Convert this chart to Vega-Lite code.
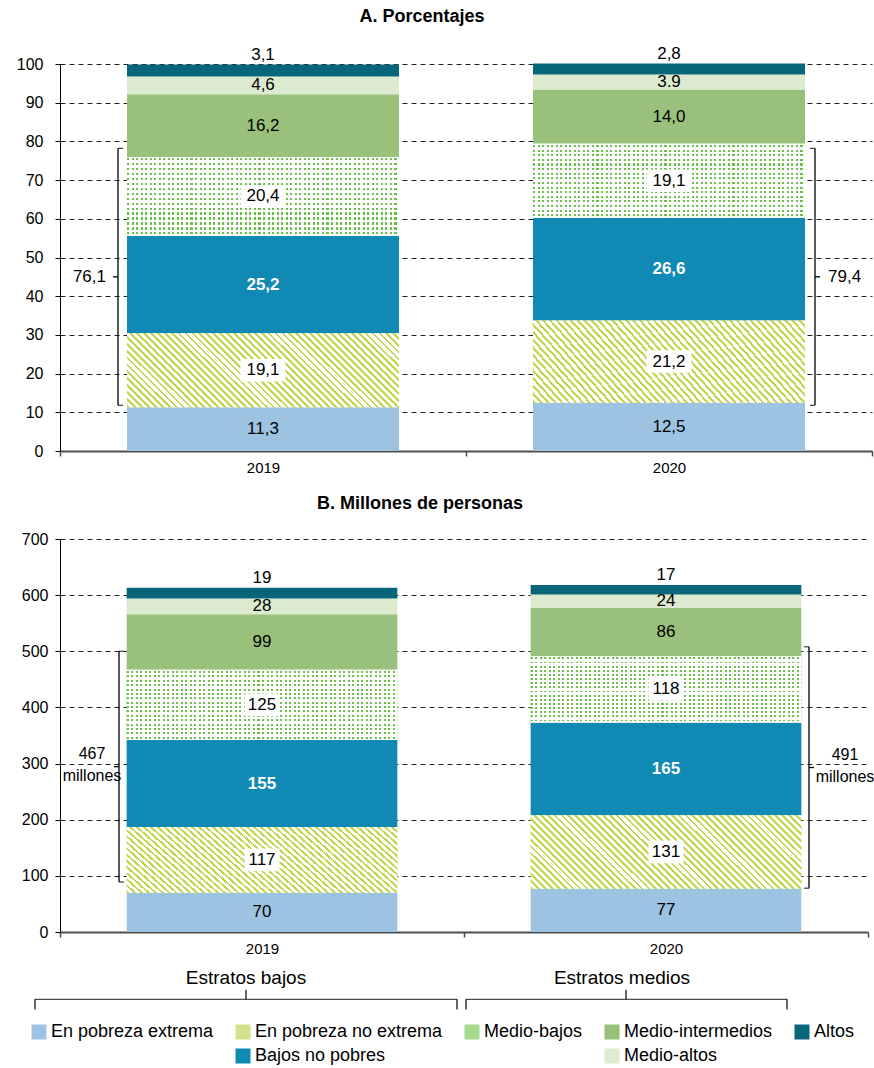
{
"$schema":"https://vega.github.io/schema/vega-lite/v6.json",
"background":"white",
"padding":{"left":16,"right":0,"top":8,"bottom":0},
"config":{
 "font":"Liberation Sans",
 "view":{"stroke":null},
 "title":{"fontSize":18,"fontWeight":"bold","color":"#000","font":"Liberation Sans"},
 "axisX":{"domainColor":"#4d4d4d","domainWidth":2,"tickColor":"#4d4d4d","tickSize":5,"tickWidth":1.5,"tickBand":"extent","labelFontSize":15,"labelColor":"#000","labelAngle":0,"labelPadding":4,"title":null,"grid":false},
 "axisY":{"grid":true,"gridDash":[5,4],"gridColor":"#222","gridWidth":1,"domainColor":"#000","domainWidth":1,"tickColor":"#000","tickSize":5,"labelFontSize":16,"labelColor":"#000","labelPadding":7,"title":null},
 "rect":{"stroke":null,"color":{"gradient":"linear","x1":0,"y1":1,"x2":1.185,"y2":0.677,"stops":[
{"offset":0,"color":"#c3d64b"},{"offset":0.008,"color":"#c3d64b"},{"offset":0.008,"color":"#fff"},{"offset":0.02,"color":"#fff"},
{"offset":0.02,"color":"#c3d64b"},{"offset":0.028,"color":"#c3d64b"},{"offset":0.028,"color":"#fff"},{"offset":0.04,"color":"#fff"},
{"offset":0.04,"color":"#c3d64b"},{"offset":0.048,"color":"#c3d64b"},{"offset":0.048,"color":"#fff"},{"offset":0.06,"color":"#fff"},
{"offset":0.06,"color":"#c3d64b"},{"offset":0.068,"color":"#c3d64b"},{"offset":0.068,"color":"#fff"},{"offset":0.08,"color":"#fff"},
{"offset":0.08,"color":"#c3d64b"},{"offset":0.088,"color":"#c3d64b"},{"offset":0.088,"color":"#fff"},{"offset":0.1,"color":"#fff"},
{"offset":0.1,"color":"#c3d64b"},{"offset":0.108,"color":"#c3d64b"},{"offset":0.108,"color":"#fff"},{"offset":0.12,"color":"#fff"},
{"offset":0.12,"color":"#c3d64b"},{"offset":0.128,"color":"#c3d64b"},{"offset":0.128,"color":"#fff"},{"offset":0.14,"color":"#fff"},
{"offset":0.14,"color":"#c3d64b"},{"offset":0.148,"color":"#c3d64b"},{"offset":0.148,"color":"#fff"},{"offset":0.16,"color":"#fff"},
{"offset":0.16,"color":"#c3d64b"},{"offset":0.168,"color":"#c3d64b"},{"offset":0.168,"color":"#fff"},{"offset":0.18,"color":"#fff"},
{"offset":0.18,"color":"#c3d64b"},{"offset":0.188,"color":"#c3d64b"},{"offset":0.188,"color":"#fff"},{"offset":0.2,"color":"#fff"},
{"offset":0.2,"color":"#c3d64b"},{"offset":0.208,"color":"#c3d64b"},{"offset":0.208,"color":"#fff"},{"offset":0.22,"color":"#fff"},
{"offset":0.22,"color":"#c3d64b"},{"offset":0.228,"color":"#c3d64b"},{"offset":0.228,"color":"#fff"},{"offset":0.24,"color":"#fff"},
{"offset":0.24,"color":"#c3d64b"},{"offset":0.248,"color":"#c3d64b"},{"offset":0.248,"color":"#fff"},{"offset":0.26,"color":"#fff"},
{"offset":0.26,"color":"#c3d64b"},{"offset":0.268,"color":"#c3d64b"},{"offset":0.268,"color":"#fff"},{"offset":0.28,"color":"#fff"},
{"offset":0.28,"color":"#c3d64b"},{"offset":0.288,"color":"#c3d64b"},{"offset":0.288,"color":"#fff"},{"offset":0.3,"color":"#fff"},
{"offset":0.3,"color":"#c3d64b"},{"offset":0.308,"color":"#c3d64b"},{"offset":0.308,"color":"#fff"},{"offset":0.32,"color":"#fff"},
{"offset":0.32,"color":"#c3d64b"},{"offset":0.328,"color":"#c3d64b"},{"offset":0.328,"color":"#fff"},{"offset":0.34,"color":"#fff"},
{"offset":0.34,"color":"#c3d64b"},{"offset":0.348,"color":"#c3d64b"},{"offset":0.348,"color":"#fff"},{"offset":0.36,"color":"#fff"},
{"offset":0.36,"color":"#c3d64b"},{"offset":0.368,"color":"#c3d64b"},{"offset":0.368,"color":"#fff"},{"offset":0.38,"color":"#fff"},
{"offset":0.38,"color":"#c3d64b"},{"offset":0.388,"color":"#c3d64b"},{"offset":0.388,"color":"#fff"},{"offset":0.4,"color":"#fff"},
{"offset":0.4,"color":"#c3d64b"},{"offset":0.408,"color":"#c3d64b"},{"offset":0.408,"color":"#fff"},{"offset":0.42,"color":"#fff"},
{"offset":0.42,"color":"#c3d64b"},{"offset":0.428,"color":"#c3d64b"},{"offset":0.428,"color":"#fff"},{"offset":0.44,"color":"#fff"},
{"offset":0.44,"color":"#c3d64b"},{"offset":0.448,"color":"#c3d64b"},{"offset":0.448,"color":"#fff"},{"offset":0.46,"color":"#fff"},
{"offset":0.46,"color":"#c3d64b"},{"offset":0.468,"color":"#c3d64b"},{"offset":0.468,"color":"#fff"},{"offset":0.48,"color":"#fff"},
{"offset":0.48,"color":"#c3d64b"},{"offset":0.488,"color":"#c3d64b"},{"offset":0.488,"color":"#fff"},{"offset":0.5,"color":"#fff"},
{"offset":0.5,"color":"#c3d64b"},{"offset":0.508,"color":"#c3d64b"},{"offset":0.508,"color":"#fff"},{"offset":0.52,"color":"#fff"},
{"offset":0.52,"color":"#c3d64b"},{"offset":0.528,"color":"#c3d64b"},{"offset":0.528,"color":"#fff"},{"offset":0.54,"color":"#fff"},
{"offset":0.54,"color":"#c3d64b"},{"offset":0.548,"color":"#c3d64b"},{"offset":0.548,"color":"#fff"},{"offset":0.56,"color":"#fff"},
{"offset":0.56,"color":"#c3d64b"},{"offset":0.568,"color":"#c3d64b"},{"offset":0.568,"color":"#fff"},{"offset":0.58,"color":"#fff"},
{"offset":0.58,"color":"#c3d64b"},{"offset":0.588,"color":"#c3d64b"},{"offset":0.588,"color":"#fff"},{"offset":0.6,"color":"#fff"},
{"offset":0.6,"color":"#c3d64b"},{"offset":0.608,"color":"#c3d64b"},{"offset":0.608,"color":"#fff"},{"offset":0.62,"color":"#fff"},
{"offset":0.62,"color":"#c3d64b"},{"offset":0.628,"color":"#c3d64b"},{"offset":0.628,"color":"#fff"},{"offset":0.64,"color":"#fff"},
{"offset":0.64,"color":"#c3d64b"},{"offset":0.648,"color":"#c3d64b"},{"offset":0.648,"color":"#fff"},{"offset":0.66,"color":"#fff"},
{"offset":0.66,"color":"#c3d64b"},{"offset":0.668,"color":"#c3d64b"},{"offset":0.668,"color":"#fff"},{"offset":0.68,"color":"#fff"},
{"offset":0.68,"color":"#c3d64b"},{"offset":0.688,"color":"#c3d64b"},{"offset":0.688,"color":"#fff"},{"offset":0.7,"color":"#fff"},
{"offset":0.7,"color":"#c3d64b"},{"offset":0.708,"color":"#c3d64b"},{"offset":0.708,"color":"#fff"},{"offset":0.72,"color":"#fff"},
{"offset":0.72,"color":"#c3d64b"},{"offset":0.728,"color":"#c3d64b"},{"offset":0.728,"color":"#fff"},{"offset":0.74,"color":"#fff"},
{"offset":0.74,"color":"#c3d64b"},{"offset":0.748,"color":"#c3d64b"},{"offset":0.748,"color":"#fff"},{"offset":0.76,"color":"#fff"},
{"offset":0.76,"color":"#c3d64b"},{"offset":0.768,"color":"#c3d64b"},{"offset":0.768,"color":"#fff"},{"offset":0.78,"color":"#fff"},
{"offset":0.78,"color":"#c3d64b"},{"offset":0.788,"color":"#c3d64b"},{"offset":0.788,"color":"#fff"},{"offset":0.8,"color":"#fff"},
{"offset":0.8,"color":"#c3d64b"},{"offset":0.808,"color":"#c3d64b"},{"offset":0.808,"color":"#fff"},{"offset":0.82,"color":"#fff"},
{"offset":0.82,"color":"#c3d64b"},{"offset":0.828,"color":"#c3d64b"},{"offset":0.828,"color":"#fff"},{"offset":0.84,"color":"#fff"},
{"offset":0.84,"color":"#c3d64b"},{"offset":0.848,"color":"#c3d64b"},{"offset":0.848,"color":"#fff"},{"offset":0.86,"color":"#fff"},
{"offset":0.86,"color":"#c3d64b"},{"offset":0.868,"color":"#c3d64b"},{"offset":0.868,"color":"#fff"},{"offset":0.88,"color":"#fff"},
{"offset":0.88,"color":"#c3d64b"},{"offset":0.888,"color":"#c3d64b"},{"offset":0.888,"color":"#fff"},{"offset":0.9,"color":"#fff"},
{"offset":0.9,"color":"#c3d64b"},{"offset":0.908,"color":"#c3d64b"},{"offset":0.908,"color":"#fff"},{"offset":0.92,"color":"#fff"},
{"offset":0.92,"color":"#c3d64b"},{"offset":0.928,"color":"#c3d64b"},{"offset":0.928,"color":"#fff"},{"offset":0.94,"color":"#fff"},
{"offset":0.94,"color":"#c3d64b"},{"offset":0.948,"color":"#c3d64b"},{"offset":0.948,"color":"#fff"},{"offset":0.96,"color":"#fff"},
{"offset":0.96,"color":"#c3d64b"},{"offset":0.968,"color":"#c3d64b"},{"offset":0.968,"color":"#fff"},{"offset":0.98,"color":"#fff"},
{"offset":0.98,"color":"#c3d64b"},{"offset":0.988,"color":"#c3d64b"},{"offset":0.988,"color":"#fff"},{"offset":1,"color":"#fff"}
]}},
 "bar":{"stroke":null,"color":{"gradient":"linear","x1":0,"y1":0,"x2":1,"y2":0,"stops":[
{"offset":0,"color":"rgba(255,255,255,0)"},{"offset":0.0075,"color":"rgba(255,255,255,0)"},{"offset":0.0075,"color":"#fff"},{"offset":0.01667,"color":"#fff"},
{"offset":0.01667,"color":"rgba(255,255,255,0)"},{"offset":0.02417,"color":"rgba(255,255,255,0)"},{"offset":0.02417,"color":"#fff"},{"offset":0.03333,"color":"#fff"},
{"offset":0.03333,"color":"rgba(255,255,255,0)"},{"offset":0.04083,"color":"rgba(255,255,255,0)"},{"offset":0.04083,"color":"#fff"},{"offset":0.05,"color":"#fff"},
{"offset":0.05,"color":"rgba(255,255,255,0)"},{"offset":0.0575,"color":"rgba(255,255,255,0)"},{"offset":0.0575,"color":"#fff"},{"offset":0.06667,"color":"#fff"},
{"offset":0.06667,"color":"rgba(255,255,255,0)"},{"offset":0.07417,"color":"rgba(255,255,255,0)"},{"offset":0.07417,"color":"#fff"},{"offset":0.08333,"color":"#fff"},
{"offset":0.08333,"color":"rgba(255,255,255,0)"},{"offset":0.09083,"color":"rgba(255,255,255,0)"},{"offset":0.09083,"color":"#fff"},{"offset":0.1,"color":"#fff"},
{"offset":0.1,"color":"rgba(255,255,255,0)"},{"offset":0.1075,"color":"rgba(255,255,255,0)"},{"offset":0.1075,"color":"#fff"},{"offset":0.11667,"color":"#fff"},
{"offset":0.11667,"color":"rgba(255,255,255,0)"},{"offset":0.12417,"color":"rgba(255,255,255,0)"},{"offset":0.12417,"color":"#fff"},{"offset":0.13333,"color":"#fff"},
{"offset":0.13333,"color":"rgba(255,255,255,0)"},{"offset":0.14083,"color":"rgba(255,255,255,0)"},{"offset":0.14083,"color":"#fff"},{"offset":0.15,"color":"#fff"},
{"offset":0.15,"color":"rgba(255,255,255,0)"},{"offset":0.1575,"color":"rgba(255,255,255,0)"},{"offset":0.1575,"color":"#fff"},{"offset":0.16667,"color":"#fff"},
{"offset":0.16667,"color":"rgba(255,255,255,0)"},{"offset":0.17417,"color":"rgba(255,255,255,0)"},{"offset":0.17417,"color":"#fff"},{"offset":0.18333,"color":"#fff"},
{"offset":0.18333,"color":"rgba(255,255,255,0)"},{"offset":0.19083,"color":"rgba(255,255,255,0)"},{"offset":0.19083,"color":"#fff"},{"offset":0.2,"color":"#fff"},
{"offset":0.2,"color":"rgba(255,255,255,0)"},{"offset":0.2075,"color":"rgba(255,255,255,0)"},{"offset":0.2075,"color":"#fff"},{"offset":0.21667,"color":"#fff"},
{"offset":0.21667,"color":"rgba(255,255,255,0)"},{"offset":0.22417,"color":"rgba(255,255,255,0)"},{"offset":0.22417,"color":"#fff"},{"offset":0.23333,"color":"#fff"},
{"offset":0.23333,"color":"rgba(255,255,255,0)"},{"offset":0.24083,"color":"rgba(255,255,255,0)"},{"offset":0.24083,"color":"#fff"},{"offset":0.25,"color":"#fff"},
{"offset":0.25,"color":"rgba(255,255,255,0)"},{"offset":0.2575,"color":"rgba(255,255,255,0)"},{"offset":0.2575,"color":"#fff"},{"offset":0.26667,"color":"#fff"},
{"offset":0.26667,"color":"rgba(255,255,255,0)"},{"offset":0.27417,"color":"rgba(255,255,255,0)"},{"offset":0.27417,"color":"#fff"},{"offset":0.28333,"color":"#fff"},
{"offset":0.28333,"color":"rgba(255,255,255,0)"},{"offset":0.29083,"color":"rgba(255,255,255,0)"},{"offset":0.29083,"color":"#fff"},{"offset":0.3,"color":"#fff"},
{"offset":0.3,"color":"rgba(255,255,255,0)"},{"offset":0.3075,"color":"rgba(255,255,255,0)"},{"offset":0.3075,"color":"#fff"},{"offset":0.31667,"color":"#fff"},
{"offset":0.31667,"color":"rgba(255,255,255,0)"},{"offset":0.32417,"color":"rgba(255,255,255,0)"},{"offset":0.32417,"color":"#fff"},{"offset":0.33333,"color":"#fff"},
{"offset":0.33333,"color":"rgba(255,255,255,0)"},{"offset":0.34083,"color":"rgba(255,255,255,0)"},{"offset":0.34083,"color":"#fff"},{"offset":0.35,"color":"#fff"},
{"offset":0.35,"color":"rgba(255,255,255,0)"},{"offset":0.3575,"color":"rgba(255,255,255,0)"},{"offset":0.3575,"color":"#fff"},{"offset":0.36667,"color":"#fff"},
{"offset":0.36667,"color":"rgba(255,255,255,0)"},{"offset":0.37417,"color":"rgba(255,255,255,0)"},{"offset":0.37417,"color":"#fff"},{"offset":0.38333,"color":"#fff"},
{"offset":0.38333,"color":"rgba(255,255,255,0)"},{"offset":0.39083,"color":"rgba(255,255,255,0)"},{"offset":0.39083,"color":"#fff"},{"offset":0.4,"color":"#fff"},
{"offset":0.4,"color":"rgba(255,255,255,0)"},{"offset":0.4075,"color":"rgba(255,255,255,0)"},{"offset":0.4075,"color":"#fff"},{"offset":0.41667,"color":"#fff"},
{"offset":0.41667,"color":"rgba(255,255,255,0)"},{"offset":0.42417,"color":"rgba(255,255,255,0)"},{"offset":0.42417,"color":"#fff"},{"offset":0.43333,"color":"#fff"},
{"offset":0.43333,"color":"rgba(255,255,255,0)"},{"offset":0.44083,"color":"rgba(255,255,255,0)"},{"offset":0.44083,"color":"#fff"},{"offset":0.45,"color":"#fff"},
{"offset":0.45,"color":"rgba(255,255,255,0)"},{"offset":0.4575,"color":"rgba(255,255,255,0)"},{"offset":0.4575,"color":"#fff"},{"offset":0.46667,"color":"#fff"},
{"offset":0.46667,"color":"rgba(255,255,255,0)"},{"offset":0.47417,"color":"rgba(255,255,255,0)"},{"offset":0.47417,"color":"#fff"},{"offset":0.48333,"color":"#fff"},
{"offset":0.48333,"color":"rgba(255,255,255,0)"},{"offset":0.49083,"color":"rgba(255,255,255,0)"},{"offset":0.49083,"color":"#fff"},{"offset":0.5,"color":"#fff"},
{"offset":0.5,"color":"rgba(255,255,255,0)"},{"offset":0.5075,"color":"rgba(255,255,255,0)"},{"offset":0.5075,"color":"#fff"},{"offset":0.51667,"color":"#fff"},
{"offset":0.51667,"color":"rgba(255,255,255,0)"},{"offset":0.52417,"color":"rgba(255,255,255,0)"},{"offset":0.52417,"color":"#fff"},{"offset":0.53333,"color":"#fff"},
{"offset":0.53333,"color":"rgba(255,255,255,0)"},{"offset":0.54083,"color":"rgba(255,255,255,0)"},{"offset":0.54083,"color":"#fff"},{"offset":0.55,"color":"#fff"},
{"offset":0.55,"color":"rgba(255,255,255,0)"},{"offset":0.5575,"color":"rgba(255,255,255,0)"},{"offset":0.5575,"color":"#fff"},{"offset":0.56667,"color":"#fff"},
{"offset":0.56667,"color":"rgba(255,255,255,0)"},{"offset":0.57417,"color":"rgba(255,255,255,0)"},{"offset":0.57417,"color":"#fff"},{"offset":0.58333,"color":"#fff"},
{"offset":0.58333,"color":"rgba(255,255,255,0)"},{"offset":0.59083,"color":"rgba(255,255,255,0)"},{"offset":0.59083,"color":"#fff"},{"offset":0.6,"color":"#fff"},
{"offset":0.6,"color":"rgba(255,255,255,0)"},{"offset":0.6075,"color":"rgba(255,255,255,0)"},{"offset":0.6075,"color":"#fff"},{"offset":0.61667,"color":"#fff"},
{"offset":0.61667,"color":"rgba(255,255,255,0)"},{"offset":0.62417,"color":"rgba(255,255,255,0)"},{"offset":0.62417,"color":"#fff"},{"offset":0.63333,"color":"#fff"},
{"offset":0.63333,"color":"rgba(255,255,255,0)"},{"offset":0.64083,"color":"rgba(255,255,255,0)"},{"offset":0.64083,"color":"#fff"},{"offset":0.65,"color":"#fff"},
{"offset":0.65,"color":"rgba(255,255,255,0)"},{"offset":0.6575,"color":"rgba(255,255,255,0)"},{"offset":0.6575,"color":"#fff"},{"offset":0.66667,"color":"#fff"},
{"offset":0.66667,"color":"rgba(255,255,255,0)"},{"offset":0.67417,"color":"rgba(255,255,255,0)"},{"offset":0.67417,"color":"#fff"},{"offset":0.68333,"color":"#fff"},
{"offset":0.68333,"color":"rgba(255,255,255,0)"},{"offset":0.69083,"color":"rgba(255,255,255,0)"},{"offset":0.69083,"color":"#fff"},{"offset":0.7,"color":"#fff"},
{"offset":0.7,"color":"rgba(255,255,255,0)"},{"offset":0.7075,"color":"rgba(255,255,255,0)"},{"offset":0.7075,"color":"#fff"},{"offset":0.71667,"color":"#fff"},
{"offset":0.71667,"color":"rgba(255,255,255,0)"},{"offset":0.72417,"color":"rgba(255,255,255,0)"},{"offset":0.72417,"color":"#fff"},{"offset":0.73333,"color":"#fff"},
{"offset":0.73333,"color":"rgba(255,255,255,0)"},{"offset":0.74083,"color":"rgba(255,255,255,0)"},{"offset":0.74083,"color":"#fff"},{"offset":0.75,"color":"#fff"},
{"offset":0.75,"color":"rgba(255,255,255,0)"},{"offset":0.7575,"color":"rgba(255,255,255,0)"},{"offset":0.7575,"color":"#fff"},{"offset":0.76667,"color":"#fff"},
{"offset":0.76667,"color":"rgba(255,255,255,0)"},{"offset":0.77417,"color":"rgba(255,255,255,0)"},{"offset":0.77417,"color":"#fff"},{"offset":0.78333,"color":"#fff"},
{"offset":0.78333,"color":"rgba(255,255,255,0)"},{"offset":0.79083,"color":"rgba(255,255,255,0)"},{"offset":0.79083,"color":"#fff"},{"offset":0.8,"color":"#fff"},
{"offset":0.8,"color":"rgba(255,255,255,0)"},{"offset":0.8075,"color":"rgba(255,255,255,0)"},{"offset":0.8075,"color":"#fff"},{"offset":0.81667,"color":"#fff"},
{"offset":0.81667,"color":"rgba(255,255,255,0)"},{"offset":0.82417,"color":"rgba(255,255,255,0)"},{"offset":0.82417,"color":"#fff"},{"offset":0.83333,"color":"#fff"},
{"offset":0.83333,"color":"rgba(255,255,255,0)"},{"offset":0.84083,"color":"rgba(255,255,255,0)"},{"offset":0.84083,"color":"#fff"},{"offset":0.85,"color":"#fff"},
{"offset":0.85,"color":"rgba(255,255,255,0)"},{"offset":0.8575,"color":"rgba(255,255,255,0)"},{"offset":0.8575,"color":"#fff"},{"offset":0.86667,"color":"#fff"},
{"offset":0.86667,"color":"rgba(255,255,255,0)"},{"offset":0.87417,"color":"rgba(255,255,255,0)"},{"offset":0.87417,"color":"#fff"},{"offset":0.88333,"color":"#fff"},
{"offset":0.88333,"color":"rgba(255,255,255,0)"},{"offset":0.89083,"color":"rgba(255,255,255,0)"},{"offset":0.89083,"color":"#fff"},{"offset":0.9,"color":"#fff"},
{"offset":0.9,"color":"rgba(255,255,255,0)"},{"offset":0.9075,"color":"rgba(255,255,255,0)"},{"offset":0.9075,"color":"#fff"},{"offset":0.91667,"color":"#fff"},
{"offset":0.91667,"color":"rgba(255,255,255,0)"},{"offset":0.92417,"color":"rgba(255,255,255,0)"},{"offset":0.92417,"color":"#fff"},{"offset":0.93333,"color":"#fff"},
{"offset":0.93333,"color":"rgba(255,255,255,0)"},{"offset":0.94083,"color":"rgba(255,255,255,0)"},{"offset":0.94083,"color":"#fff"},{"offset":0.95,"color":"#fff"},
{"offset":0.95,"color":"rgba(255,255,255,0)"},{"offset":0.9575,"color":"rgba(255,255,255,0)"},{"offset":0.9575,"color":"#fff"},{"offset":0.96667,"color":"#fff"},
{"offset":0.96667,"color":"rgba(255,255,255,0)"},{"offset":0.97417,"color":"rgba(255,255,255,0)"},{"offset":0.97417,"color":"#fff"},{"offset":0.98333,"color":"#fff"},
{"offset":0.98333,"color":"rgba(255,255,255,0)"},{"offset":0.99083,"color":"rgba(255,255,255,0)"},{"offset":0.99083,"color":"#fff"},{"offset":1,"color":"#fff"}
]}}
},
"datasets":{
 "pct":[
  {"year":"2019","cat":"En pobreza extrema","k":1,"value":11.3,"label":"11,3"},
  {"year":"2019","cat":"En pobreza no extrema","k":2,"value":19.1,"label":"19,1"},
  {"year":"2019","cat":"Bajos no pobres","k":3,"value":25.2,"label":"25,2"},
  {"year":"2019","cat":"Medio-bajos","k":4,"value":20.4,"label":"20,4"},
  {"year":"2019","cat":"Medio-intermedios","k":5,"value":16.2,"label":"16,2"},
  {"year":"2019","cat":"Medio-altos","k":6,"value":4.6,"label":"4,6"},
  {"year":"2019","cat":"Altos","k":7,"value":3.1,"label":"3,1"},
  {"year":"2020","cat":"En pobreza extrema","k":1,"value":12.5,"label":"12,5"},
  {"year":"2020","cat":"En pobreza no extrema","k":2,"value":21.2,"label":"21,2"},
  {"year":"2020","cat":"Bajos no pobres","k":3,"value":26.6,"label":"26,6"},
  {"year":"2020","cat":"Medio-bajos","k":4,"value":19.1,"label":"19,1"},
  {"year":"2020","cat":"Medio-intermedios","k":5,"value":14.0,"label":"14,0"},
  {"year":"2020","cat":"Medio-altos","k":6,"value":3.9,"label":"3.9"},
  {"year":"2020","cat":"Altos","k":7,"value":2.8,"label":"2,8"}
 ],
 "mil":[
  {"year":"2019","cat":"En pobreza extrema","k":1,"value":70,"label":"70"},
  {"year":"2019","cat":"En pobreza no extrema","k":2,"value":117,"label":"117"},
  {"year":"2019","cat":"Bajos no pobres","k":3,"value":155,"label":"155"},
  {"year":"2019","cat":"Medio-bajos","k":4,"value":125,"label":"125"},
  {"year":"2019","cat":"Medio-intermedios","k":5,"value":99,"label":"99"},
  {"year":"2019","cat":"Medio-altos","k":6,"value":28,"label":"28"},
  {"year":"2019","cat":"Altos","k":7,"value":19,"label":"19"},
  {"year":"2020","cat":"En pobreza extrema","k":1,"value":77,"label":"77"},
  {"year":"2020","cat":"En pobreza no extrema","k":2,"value":131,"label":"131"},
  {"year":"2020","cat":"Bajos no pobres","k":3,"value":165,"label":"165"},
  {"year":"2020","cat":"Medio-bajos","k":4,"value":118,"label":"118"},
  {"year":"2020","cat":"Medio-intermedios","k":5,"value":86,"label":"86"},
  {"year":"2020","cat":"Medio-altos","k":6,"value":24,"label":"24"},
  {"year":"2020","cat":"Altos","k":7,"value":17,"label":"17"}
 ],
 "brA":[
  {"year":"2019","lo":11.8,"hi":78.2,"label":"76,1"},
  {"year":"2020","lo":11.8,"hi":78.2,"label":"79,4"}
 ],
 "brB":[
  {"year":"2019","lo":89,"hi":500,"label":"467\nmillones"},
  {"year":"2020","lo":78,"hi":508,"label":"491\nmillones"}
 ],
 "grp":[
  {"year":"2019","name":"Estratos bajos"},
  {"year":"2020","name":"Estratos medios"}
 ]
},
"resolve":{"scale":{"color":"shared","x":"independent","y":"independent"},"legend":{"color":"shared"}},
"spacing":20,
"vconcat":[
 {
  "title":{"text":"A. Porcentajes","anchor":"middle","frame":"group","dx":-44,"offset":19},
  "width":812,"height":387,
  "encoding":{"x":{"field":"year","type":"nominal","scale":{"paddingInner":0,"paddingOuter":0},"axis":{"title":null}}},
  "layer":[
   {
    "data":{"name":"pct"},
    "transform":[{"stack":"value","groupby":["year"],"sort":[{"field":"k"}],"as":["v0","v1"]}],
    "layer":[
     {"mark":{"type":"bar","width":{"band":0.67}},"encoding":{
       "y":{"field":"v0","type":"quantitative","scale":{"domain":[0,100]},"axis":{"values":[0,10,20,30,40,50,60,70,80,90,100],"labelPadding":12}},
       "y2":{"field":"v1"},
       "color":{"field":"cat","type":"nominal",
         "scale":{"domain":["En pobreza extrema","En pobreza no extrema","Medio-bajos","Medio-intermedios","Altos","_1","Bajos no pobres","_2","Medio-altos"],
                  "range":["#9dc3e2","#d3e289","#a9da92","#9ac17c","#08667a","#ffffff","#1089b4","#ffffff","#dcebd0"]},
         "legend":{"orient":"none","legendX":-30,"legendY":959,"direction":"horizontal","columns":5,"title":null,"symbolType":"square","symbolSize":225,"symbolStrokeWidth":0,"labelFontSize":18,"labelColor":"#000","labelLimit":400,"columnPadding":20,"rowPadding":6,"labelOffset":3,
           "labelExpr":"substring(datum.label,0,1)=='_' ? '' : datum.label"}}}},
     {"transform":[{"filter":"datum.k==2"}],"mark":{"type":"rect","width":{"band":0.67}},"encoding":{"y":{"field":"v0","type":"quantitative","axis":{"values":[0,10,20,30,40,50,60,70,80,90,100],"labelPadding":12}},"y2":{"field":"v1"}}},
     {"transform":[{"filter":"datum.k==4"}],"mark":{"type":"bar","width":{"band":0.67},"color":{"gradient":"linear","x1":0,"y1":0,"x2":0,"y2":1,"stops":[
{"offset":0.017,"color":"#fff"},{"offset":0.017,"color":"#6cbf47"},{"offset":0.045,"color":"#6cbf47"},{"offset":0.045,"color":"#fff"},
{"offset":0.0795,"color":"#fff"},{"offset":0.0795,"color":"#6cbf47"},{"offset":0.1075,"color":"#6cbf47"},{"offset":0.1075,"color":"#fff"},
{"offset":0.142,"color":"#fff"},{"offset":0.142,"color":"#6cbf47"},{"offset":0.17,"color":"#6cbf47"},{"offset":0.17,"color":"#fff"},
{"offset":0.2045,"color":"#fff"},{"offset":0.2045,"color":"#6cbf47"},{"offset":0.2325,"color":"#6cbf47"},{"offset":0.2325,"color":"#fff"},
{"offset":0.267,"color":"#fff"},{"offset":0.267,"color":"#6cbf47"},{"offset":0.295,"color":"#6cbf47"},{"offset":0.295,"color":"#fff"},
{"offset":0.3295,"color":"#fff"},{"offset":0.3295,"color":"#6cbf47"},{"offset":0.3575,"color":"#6cbf47"},{"offset":0.3575,"color":"#fff"},
{"offset":0.392,"color":"#fff"},{"offset":0.392,"color":"#6cbf47"},{"offset":0.42,"color":"#6cbf47"},{"offset":0.42,"color":"#fff"},
{"offset":0.4545,"color":"#fff"},{"offset":0.4545,"color":"#6cbf47"},{"offset":0.4825,"color":"#6cbf47"},{"offset":0.4825,"color":"#fff"},
{"offset":0.517,"color":"#fff"},{"offset":0.517,"color":"#6cbf47"},{"offset":0.545,"color":"#6cbf47"},{"offset":0.545,"color":"#fff"},
{"offset":0.5795,"color":"#fff"},{"offset":0.5795,"color":"#6cbf47"},{"offset":0.6075,"color":"#6cbf47"},{"offset":0.6075,"color":"#fff"},
{"offset":0.642,"color":"#fff"},{"offset":0.642,"color":"#6cbf47"},{"offset":0.67,"color":"#6cbf47"},{"offset":0.67,"color":"#fff"},
{"offset":0.7045,"color":"#fff"},{"offset":0.7045,"color":"#6cbf47"},{"offset":0.7325,"color":"#6cbf47"},{"offset":0.7325,"color":"#fff"},
{"offset":0.767,"color":"#fff"},{"offset":0.767,"color":"#6cbf47"},{"offset":0.795,"color":"#6cbf47"},{"offset":0.795,"color":"#fff"},
{"offset":0.8295,"color":"#fff"},{"offset":0.8295,"color":"#6cbf47"},{"offset":0.8575,"color":"#6cbf47"},{"offset":0.8575,"color":"#fff"},
{"offset":0.892,"color":"#fff"},{"offset":0.892,"color":"#6cbf47"},{"offset":0.92,"color":"#6cbf47"},{"offset":0.92,"color":"#fff"},
{"offset":0.9545,"color":"#fff"},{"offset":0.9545,"color":"#6cbf47"},{"offset":0.9825,"color":"#6cbf47"},{"offset":0.9825,"color":"#fff"}
]}},"encoding":{"y":{"field":"v0","type":"quantitative","axis":{"values":[0,10,20,30,40,50,60,70,80,90,100],"labelPadding":12}},"y2":{"field":"v1"}}},
     {"transform":[{"filter":"datum.k==4"}],"mark":{"type":"bar","width":{"band":0.67}},"encoding":{"y":{"field":"v0","type":"quantitative","axis":{"values":[0,10,20,30,40,50,60,70,80,90,100],"labelPadding":12}},"y2":{"field":"v1"}}},
     {"transform":[{"filter":"datum.k==2||datum.k==4"},{"fold":["v0","v1"],"as":["edge","pos"]}],
      "mark":{"type":"point","shape":"M-1,-0.5H1V0.5H-1Z","size":2025,"filled":true,"color":"#fff","opacity":1,"strokeWidth":0},
      "encoding":{"y":{"aggregate":"mean","field":"pos","type":"quantitative","axis":{"values":[0,10,20,30,40,50,60,70,80,90,100],"labelPadding":12}},"detail":{"field":"k","type":"nominal"}}},
     {"transform":[{"filter":"datum.k!=3&&datum.k!=7"},{"fold":["v0","v1"],"as":["edge","pos"]}],
      "mark":{"type":"text","fontSize":17,"color":"#000","baseline":"middle"},
      "encoding":{"y":{"aggregate":"mean","field":"pos","type":"quantitative","axis":{"values":[0,10,20,30,40,50,60,70,80,90,100],"labelPadding":12}},"text":{"field":"label"},"detail":{"field":"k","type":"nominal"}}},
     {"transform":[{"filter":"datum.k==3"},{"fold":["v0","v1"],"as":["edge","pos"]}],
      "mark":{"type":"text","fontSize":17,"fontWeight":"bold","color":"#fff","baseline":"middle"},
      "encoding":{"y":{"aggregate":"mean","field":"pos","type":"quantitative","axis":{"values":[0,10,20,30,40,50,60,70,80,90,100],"labelPadding":12}},"text":{"field":"label"},"detail":{"field":"k","type":"nominal"}}},
     {"transform":[{"filter":"datum.k==7"},{"fold":["v0","v1"],"as":["edge","pos"]}],
      "mark":{"type":"text","fontSize":17,"color":"#000","baseline":"middle","dy":-15},
      "encoding":{"y":{"aggregate":"mean","field":"pos","type":"quantitative","axis":{"values":[0,10,20,30,40,50,60,70,80,90,100],"labelPadding":12}},"text":{"field":"label"},"detail":{"field":"k","type":"nominal"}}}
    ]
   },
   {
    "data":{"name":"brA"},
    "layer":[
     {"transform":[{"filter":"datum.year=='2019'"}],"mark":{"type":"rule","xOffset":-145,"strokeWidth":1.3,"color":"#000"},"encoding":{"y":{"field":"lo","type":"quantitative","axis":{"values":[0,10,20,30,40,50,60,70,80,90,100],"labelPadding":12}},"y2":{"field":"hi"}}},
     {"transform":[{"filter":"datum.year=='2019'"},{"fold":["lo","hi"],"as":["edge","pos"]}],"mark":{"type":"tick","orient":"horizontal","xOffset":-142.5,"thickness":1.3,"color":"#000"},"encoding":{"y":{"field":"pos","type":"quantitative","axis":{"values":[0,10,20,30,40,50,60,70,80,90,100],"labelPadding":12}},"size":{"value":5}}},
     {"transform":[{"filter":"datum.year=='2019'"},{"fold":["lo","hi"],"as":["edge","pos"]}],"mark":{"type":"tick","orient":"horizontal","xOffset":-147.5,"thickness":1.3,"color":"#000"},"encoding":{"y":{"aggregate":"mean","field":"pos","type":"quantitative","axis":{"values":[0,10,20,30,40,50,60,70,80,90,100],"labelPadding":12}},"size":{"value":5}}},
     {"transform":[{"filter":"datum.year=='2019'"},{"fold":["lo","hi"],"as":["edge","pos"]}],"mark":{"type":"text","xOffset":-157,"align":"right","baseline":"middle","fontSize":17,"color":"#000"},"encoding":{"y":{"aggregate":"mean","field":"pos","type":"quantitative","axis":{"values":[0,10,20,30,40,50,60,70,80,90,100],"labelPadding":12}},"text":{"field":"label"}}},
     {"transform":[{"filter":"datum.year=='2020'"}],"mark":{"type":"rule","xOffset":146,"strokeWidth":1.3,"color":"#000"},"encoding":{"y":{"field":"lo","type":"quantitative","axis":{"values":[0,10,20,30,40,50,60,70,80,90,100],"labelPadding":12}},"y2":{"field":"hi"}}},
     {"transform":[{"filter":"datum.year=='2020'"},{"fold":["lo","hi"],"as":["edge","pos"]}],"mark":{"type":"tick","orient":"horizontal","xOffset":143.5,"thickness":1.3,"color":"#000"},"encoding":{"y":{"field":"pos","type":"quantitative","axis":{"values":[0,10,20,30,40,50,60,70,80,90,100],"labelPadding":12}},"size":{"value":5}}},
     {"transform":[{"filter":"datum.year=='2020'"},{"fold":["lo","hi"],"as":["edge","pos"]}],"mark":{"type":"tick","orient":"horizontal","xOffset":148.5,"thickness":1.3,"color":"#000"},"encoding":{"y":{"aggregate":"mean","field":"pos","type":"quantitative","axis":{"values":[0,10,20,30,40,50,60,70,80,90,100],"labelPadding":12}},"size":{"value":5}}},
     {"transform":[{"filter":"datum.year=='2020'"},{"fold":["lo","hi"],"as":["edge","pos"]}],"mark":{"type":"text","xOffset":159,"align":"left","baseline":"middle","fontSize":17,"color":"#000"},"encoding":{"y":{"aggregate":"mean","field":"pos","type":"quantitative","axis":{"values":[0,10,20,30,40,50,60,70,80,90,100],"labelPadding":12}},"text":{"field":"label"}}}
    ]
   }
  ]
 },
 {
  "title":{"text":"B. Millones de personas","anchor":"middle","frame":"group","dx":-44,"offset":18},
  "width":808,"height":393,
  "encoding":{"x":{"field":"year","type":"nominal","scale":{"paddingInner":0,"paddingOuter":0},"axis":{"title":null}}},
  "layer":[
   {
    "data":{"name":"mil"},
    "transform":[{"stack":"value","groupby":["year"],"sort":[{"field":"k"}],"as":["v0","v1"]}],
    "layer":[
     {"mark":{"type":"bar","width":{"band":0.67}},"encoding":{
       "y":{"field":"v0","type":"quantitative","scale":{"domain":[0,700]},"axis":{"values":[0,100,200,300,400,500,600,700]}},
       "y2":{"field":"v1"},
       "color":{"field":"cat","type":"nominal",
         "scale":{"domain":["En pobreza extrema","En pobreza no extrema","Medio-bajos","Medio-intermedios","Altos","_1","Bajos no pobres","_2","Medio-altos"],
                  "range":["#9dc3e2","#d3e289","#a9da92","#9ac17c","#08667a","#ffffff","#1089b4","#ffffff","#dcebd0"]}}}},
     {"transform":[{"filter":"datum.k==2"}],"mark":{"type":"rect","width":{"band":0.67}},"encoding":{"y":{"field":"v0","type":"quantitative"},"y2":{"field":"v1"}}},
     {"transform":[{"filter":"datum.k==4"}],"mark":{"type":"bar","width":{"band":0.67},"color":{"gradient":"linear","x1":0,"y1":0,"x2":0,"y2":1,"stops":[
{"offset":0.017,"color":"#fff"},{"offset":0.017,"color":"#6cbf47"},{"offset":0.045,"color":"#6cbf47"},{"offset":0.045,"color":"#fff"},
{"offset":0.0795,"color":"#fff"},{"offset":0.0795,"color":"#6cbf47"},{"offset":0.1075,"color":"#6cbf47"},{"offset":0.1075,"color":"#fff"},
{"offset":0.142,"color":"#fff"},{"offset":0.142,"color":"#6cbf47"},{"offset":0.17,"color":"#6cbf47"},{"offset":0.17,"color":"#fff"},
{"offset":0.2045,"color":"#fff"},{"offset":0.2045,"color":"#6cbf47"},{"offset":0.2325,"color":"#6cbf47"},{"offset":0.2325,"color":"#fff"},
{"offset":0.267,"color":"#fff"},{"offset":0.267,"color":"#6cbf47"},{"offset":0.295,"color":"#6cbf47"},{"offset":0.295,"color":"#fff"},
{"offset":0.3295,"color":"#fff"},{"offset":0.3295,"color":"#6cbf47"},{"offset":0.3575,"color":"#6cbf47"},{"offset":0.3575,"color":"#fff"},
{"offset":0.392,"color":"#fff"},{"offset":0.392,"color":"#6cbf47"},{"offset":0.42,"color":"#6cbf47"},{"offset":0.42,"color":"#fff"},
{"offset":0.4545,"color":"#fff"},{"offset":0.4545,"color":"#6cbf47"},{"offset":0.4825,"color":"#6cbf47"},{"offset":0.4825,"color":"#fff"},
{"offset":0.517,"color":"#fff"},{"offset":0.517,"color":"#6cbf47"},{"offset":0.545,"color":"#6cbf47"},{"offset":0.545,"color":"#fff"},
{"offset":0.5795,"color":"#fff"},{"offset":0.5795,"color":"#6cbf47"},{"offset":0.6075,"color":"#6cbf47"},{"offset":0.6075,"color":"#fff"},
{"offset":0.642,"color":"#fff"},{"offset":0.642,"color":"#6cbf47"},{"offset":0.67,"color":"#6cbf47"},{"offset":0.67,"color":"#fff"},
{"offset":0.7045,"color":"#fff"},{"offset":0.7045,"color":"#6cbf47"},{"offset":0.7325,"color":"#6cbf47"},{"offset":0.7325,"color":"#fff"},
{"offset":0.767,"color":"#fff"},{"offset":0.767,"color":"#6cbf47"},{"offset":0.795,"color":"#6cbf47"},{"offset":0.795,"color":"#fff"},
{"offset":0.8295,"color":"#fff"},{"offset":0.8295,"color":"#6cbf47"},{"offset":0.8575,"color":"#6cbf47"},{"offset":0.8575,"color":"#fff"},
{"offset":0.892,"color":"#fff"},{"offset":0.892,"color":"#6cbf47"},{"offset":0.92,"color":"#6cbf47"},{"offset":0.92,"color":"#fff"},
{"offset":0.9545,"color":"#fff"},{"offset":0.9545,"color":"#6cbf47"},{"offset":0.9825,"color":"#6cbf47"},{"offset":0.9825,"color":"#fff"}
]}},"encoding":{"y":{"field":"v0","type":"quantitative"},"y2":{"field":"v1"}}},
     {"transform":[{"filter":"datum.k==4"}],"mark":{"type":"bar","width":{"band":0.67}},"encoding":{"y":{"field":"v0","type":"quantitative"},"y2":{"field":"v1"}}},
     {"transform":[{"filter":"datum.k==2||datum.k==4"},{"fold":["v0","v1"],"as":["edge","pos"]}],
      "mark":{"type":"point","shape":"M-1,-0.65H1V0.65H-1Z","size":1225,"filled":true,"color":"#fff","opacity":1,"strokeWidth":0},
      "encoding":{"y":{"aggregate":"mean","field":"pos","type":"quantitative"},"detail":{"field":"k","type":"nominal"}}},
     {"transform":[{"filter":"datum.k!=3&&datum.k!=7"},{"fold":["v0","v1"],"as":["edge","pos"]}],
      "mark":{"type":"text","fontSize":17,"color":"#000","baseline":"middle"},
      "encoding":{"y":{"aggregate":"mean","field":"pos","type":"quantitative"},"text":{"field":"label"},"detail":{"field":"k","type":"nominal"}}},
     {"transform":[{"filter":"datum.k==3"},{"fold":["v0","v1"],"as":["edge","pos"]}],
      "mark":{"type":"text","fontSize":17,"fontWeight":"bold","color":"#fff","baseline":"middle"},
      "encoding":{"y":{"aggregate":"mean","field":"pos","type":"quantitative"},"text":{"field":"label"},"detail":{"field":"k","type":"nominal"}}},
     {"transform":[{"filter":"datum.k==7"},{"fold":["v0","v1"],"as":["edge","pos"]}],
      "mark":{"type":"text","fontSize":17,"color":"#000","baseline":"middle","dy":-15},
      "encoding":{"y":{"aggregate":"mean","field":"pos","type":"quantitative"},"text":{"field":"label"},"detail":{"field":"k","type":"nominal"}}}
    ]
   },
   {
    "data":{"name":"brB"},
    "layer":[
     {"transform":[{"filter":"datum.year=='2019'"}],"mark":{"type":"rule","xOffset":-143,"strokeWidth":1.3,"color":"#000"},"encoding":{"y":{"field":"lo","type":"quantitative"},"y2":{"field":"hi"}}},
     {"transform":[{"filter":"datum.year=='2019'"},{"fold":["lo","hi"],"as":["edge","pos"]}],"mark":{"type":"tick","orient":"horizontal","xOffset":-140.5,"thickness":1.3,"color":"#000"},"encoding":{"y":{"field":"pos","type":"quantitative"},"size":{"value":5}}},
     {"transform":[{"filter":"datum.year=='2019'"},{"fold":["lo","hi"],"as":["edge","pos"]}],"mark":{"type":"tick","orient":"horizontal","xOffset":-145.5,"thickness":1.3,"color":"#000"},"encoding":{"y":{"aggregate":"mean","field":"pos","type":"quantitative"},"size":{"value":5}}},
     {"transform":[{"filter":"datum.year=='2019'"},{"fold":["lo","hi"],"as":["edge","pos"]}],"mark":{"type":"text","xOffset":-170,"dy":-13,"align":"center","baseline":"middle","fontSize":16,"lineHeight":22,"lineBreak":"\n","color":"#000"},"encoding":{"y":{"aggregate":"mean","field":"pos","type":"quantitative"},"text":{"field":"label"}}},
     {"transform":[{"filter":"datum.year=='2020'"}],"mark":{"type":"rule","xOffset":143,"strokeWidth":1.3,"color":"#000"},"encoding":{"y":{"field":"lo","type":"quantitative"},"y2":{"field":"hi"}}},
     {"transform":[{"filter":"datum.year=='2020'"},{"fold":["lo","hi"],"as":["edge","pos"]}],"mark":{"type":"tick","orient":"horizontal","xOffset":140.5,"thickness":1.3,"color":"#000"},"encoding":{"y":{"field":"pos","type":"quantitative"},"size":{"value":5}}},
     {"transform":[{"filter":"datum.year=='2020'"},{"fold":["lo","hi"],"as":["edge","pos"]}],"mark":{"type":"tick","orient":"horizontal","xOffset":145.5,"thickness":1.3,"color":"#000"},"encoding":{"y":{"aggregate":"mean","field":"pos","type":"quantitative"},"size":{"value":5}}},
     {"transform":[{"filter":"datum.year=='2020'"},{"fold":["lo","hi"],"as":["edge","pos"]}],"mark":{"type":"text","xOffset":179,"dy":-13,"align":"center","baseline":"middle","fontSize":16,"lineHeight":22,"lineBreak":"\n","color":"#000"},"encoding":{"y":{"aggregate":"mean","field":"pos","type":"quantitative"},"text":{"field":"label"}}}
    ]
   },
   {
    "data":{"name":"grp"},
    "layer":[
     {"transform":[{"filter":"datum.year=='2019'"}],"mark":{"type":"text","xOffset":-16,"fontSize":19,"color":"#000","baseline":"middle"},"encoding":{"y":{"datum":-82,"type":"quantitative"},"text":{"field":"name"}}},
     {"transform":[{"filter":"datum.year=='2019'"}],"mark":{"type":"tick","orient":"horizontal","xOffset":-16,"thickness":1.2,"color":"#000"},"encoding":{"y":{"datum":-120,"type":"quantitative"},"size":{"value":422}}},
     {"transform":[{"filter":"datum.year=='2019'"}],"mark":{"type":"rule","xOffset":-227,"strokeWidth":1.2,"color":"#000"},"encoding":{"y":{"datum":-120,"type":"quantitative"},"y2":{"datum":-138}}},
     {"transform":[{"filter":"datum.year=='2019'"}],"mark":{"type":"rule","xOffset":195,"strokeWidth":1.2,"color":"#000"},"encoding":{"y":{"datum":-120,"type":"quantitative"},"y2":{"datum":-138}}},
     {"transform":[{"filter":"datum.year=='2019'"}],"mark":{"type":"rule","xOffset":-16,"strokeWidth":1.2,"color":"#000"},"encoding":{"y":{"datum":-120,"type":"quantitative"},"y2":{"datum":-103}}},
     {"transform":[{"filter":"datum.year=='2020'"}],"mark":{"type":"text","xOffset":-44,"fontSize":19,"color":"#000","baseline":"middle"},"encoding":{"y":{"datum":-82,"type":"quantitative"},"text":{"field":"name"}}},
     {"transform":[{"filter":"datum.year=='2020'"}],"mark":{"type":"tick","orient":"horizontal","xOffset":-39.5,"thickness":1.2,"color":"#000"},"encoding":{"y":{"datum":-120,"type":"quantitative"},"size":{"value":321}}},
     {"transform":[{"filter":"datum.year=='2020'"}],"mark":{"type":"rule","xOffset":-200,"strokeWidth":1.2,"color":"#000"},"encoding":{"y":{"datum":-120,"type":"quantitative"},"y2":{"datum":-138}}},
     {"transform":[{"filter":"datum.year=='2020'"}],"mark":{"type":"rule","xOffset":121,"strokeWidth":1.2,"color":"#000"},"encoding":{"y":{"datum":-120,"type":"quantitative"},"y2":{"datum":-138}}},
     {"transform":[{"filter":"datum.year=='2020'"}],"mark":{"type":"rule","xOffset":-40,"strokeWidth":1.2,"color":"#000"},"encoding":{"y":{"datum":-120,"type":"quantitative"},"y2":{"datum":-103}}}
    ]
   }
  ]
 }
]
}
